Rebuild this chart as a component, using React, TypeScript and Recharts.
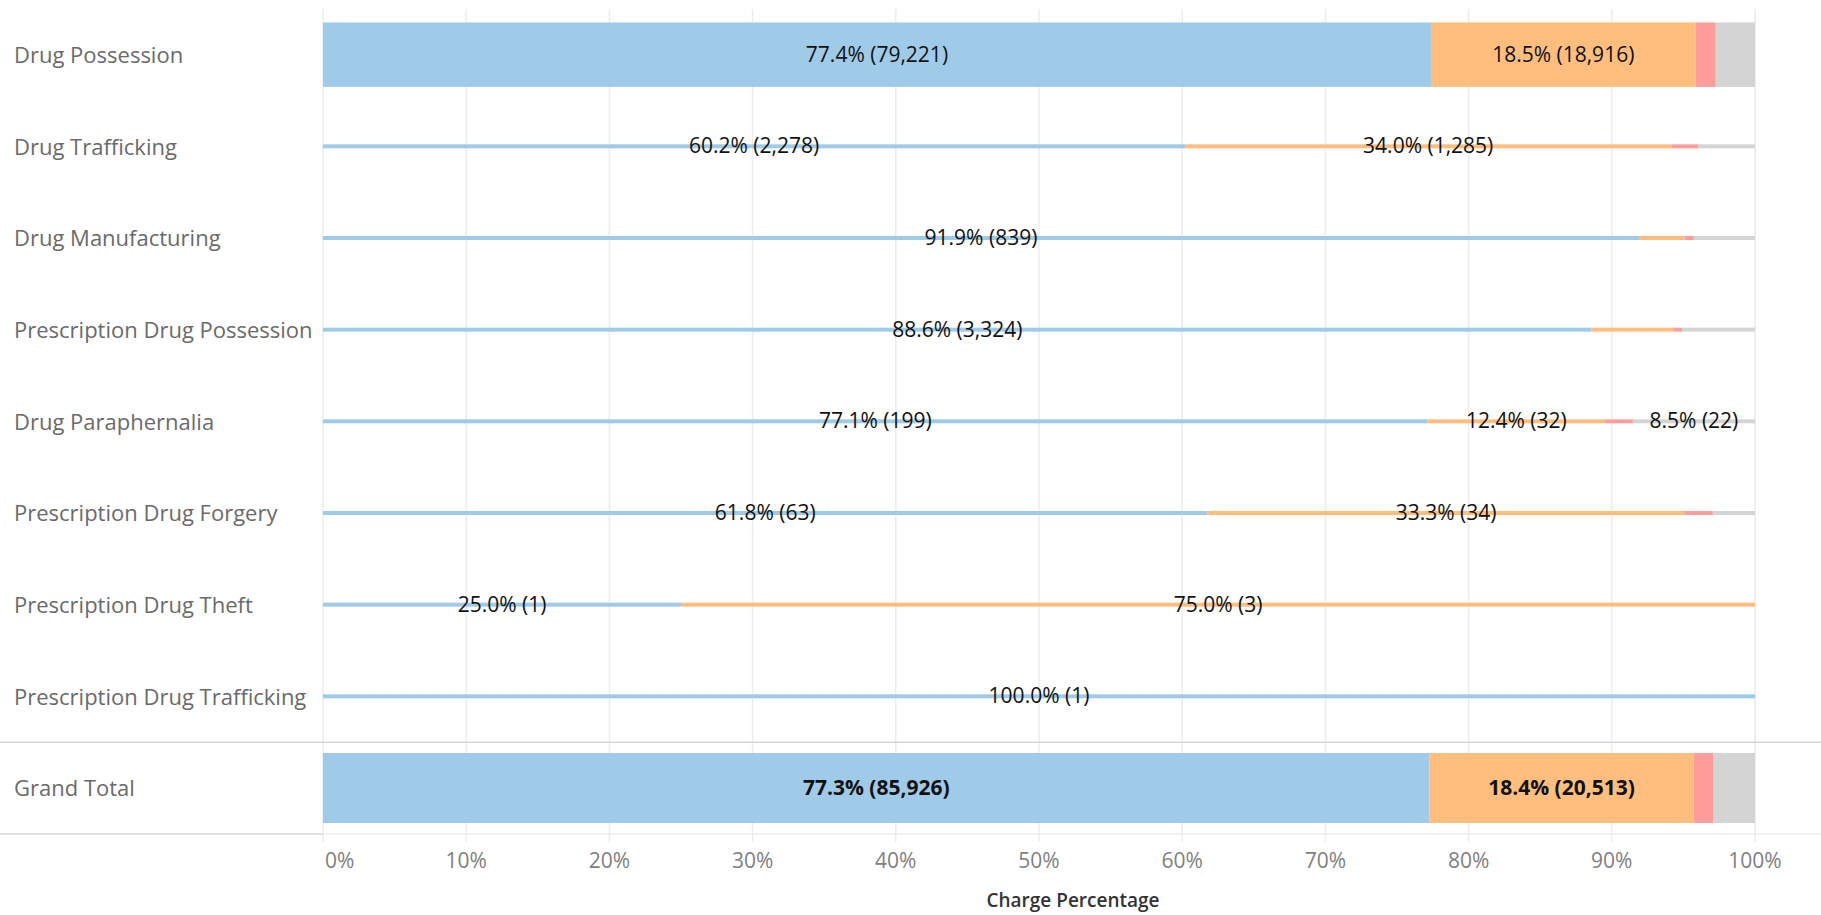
import React from 'react';
import { BarChart, Bar, XAxis, YAxis, CartesianGrid, LabelList, ReferenceLine, Label } from 'recharts';

// ---------- data ----------
const categories = [
  'Drug Possession',
  'Drug Trafficking',
  'Drug Manufacturing',
  'Prescription Drug Possession',
  'Drug Paraphernalia',
  'Prescription Drug Forgery',
  'Prescription Drug Theft',
  'Prescription Drug Trafficking',
  'Grand Total',
];
const outcome1Counts = [79221, 2278, 839, 3324, 199, 63, 1, 1, 85926];
const outcome2Counts = [18916, 1285, 29, 214, 32, 34, 3, 0, 20513];
const outcome3Counts = [1449, 72, 6, 23, 5, 2, 0, 0, 1557];
const outcome4Counts = [2804, 149, 39, 191, 22, 3, 0, 0, 3208];
const xTicks = [0, 10, 20, 30, 40, 50, 60, 70, 80, 90, 100];
const TOTAL_LABEL = 'Grand Total';
const AXIS_TITLE = 'Charge Percentage';

// ---------- styles ----------
const COLORS = ['#a0cbe8', '#ffbe7d', '#ff9d9a', '#d4d4d4'];
const FONT = '"Open Sans", "Noto Sans", sans-serif';
const MAX_THICK = 70;
const MIN_THICK = 4;
const CHART_W = 1821;
const CHART_H = 915;

const seriesCounts = [outcome1Counts, outcome2Counts, outcome3Counts, outcome4Counts];
const totals = categories.map((_, i) => seriesCounts.reduce((s, arr) => s + arr[i], 0));
const data = categories.map((name, i) => {
  const row: any = { name, total: totals[i] };
  seriesCounts.forEach((arr, k) => {
    row[`c${k}`] = arr[i];
    row[`p${k}`] = totals[i] ? (arr[i] / totals[i]) * 100 : 0;
  });
  return row;
});
const maxTotal = Math.max(...totals);
const thickness = (total: number) => Math.max(MIN_THICK, (MAX_THICK * total) / maxTotal);

const SegmentShape = (props: any) => {
  const { x, y, width, height, fill, payload } = props;
  if (!width || width <= 0) return <g />;
  const total = payload?.total ?? (props.total as number);
  const t = thickness(total);
  const cy = y + height / 2;
  return <rect x={x} y={cy - t / 2} width={width} height={t} fill={fill} />;
};

const makeLabel = (k: number) => (props: any) => {
  const vb = props.viewBox && props.viewBox.width !== undefined ? props.viewBox : props;
  const { x, y, width, height } = vb;
  const index = props.index;
  const row = data[index];
  if (!row) return null;
  const count = row[`c${k}`];
  const pct = row[`p${k}`];
  if (!count) return null;
  const text = `${pct.toFixed(1)}% (${count.toLocaleString('en-US')})`;
  if (width < text.length * 10) return null;
  const bold = row.name === TOTAL_LABEL;
  return (
    <text
      x={x + width / 2}
      y={y + height / 2}
      dy={-1}
      textAnchor="middle"
      dominantBaseline="central"
      fontSize={21}
      fontWeight={bold ? 700 : 400}
      fill="#111"
      fontFamily={FONT}
    >
      {text}
    </text>
  );
};

const CategoryTick = (props: any) => {
  const { y, payload } = props;
  return (
    <text x={14} y={y} dy={-1} dominantBaseline="central" fontSize={22} fill="#6a6a6a" fontFamily={FONT}>
      {payload.value}
    </text>
  );
};

const XTick = (props: any) => {
  const { x, y, payload } = props;
  const first = payload.value === xTicks[0];
  return (
    <text
      x={x}
      y={y}
      dx={first ? 2 : 0}
      dy={24}
      textAnchor={first ? 'start' : 'middle'}
      fontSize={21}
      fill="#808080"
      fontFamily={FONT}
    >
      {`${payload.value}%`}
    </text>
  );
};

const AxisTitle = (props: any) => {
  const vb = props.viewBox || {};
  return (
    <text
      x={vb.x + vb.width / 2 + 34}
      y={CHART_H - 8}
      textAnchor="middle"
      fontSize={19}
      fontWeight={600}
      fill="#333"
      fontFamily={FONT}
    >
      {AXIS_TITLE}
    </text>
  );
};

export default function App() {
  return (
    <div
      style={{
        position: 'absolute',
        left: 0,
        top: 0,
        width: CHART_W,
        height: CHART_H,
        background: '#fff',
        fontFamily: FONT,
        overflow: 'hidden',
      }}
    >
      <BarChart
        width={CHART_W}
        height={CHART_H}
        data={data}
        layout="vertical"
        margin={{ top: 9, right: 66, bottom: 0, left: 0 }}
      >
        <CartesianGrid horizontal={false} stroke="#ececec" strokeWidth={1.5} />
        <XAxis
          type="number"
          domain={[0, 100]}
          ticks={xTicks}
          interval={0}
          axisLine={false}
          tickLine={{ stroke: '#ececec', strokeWidth: 1.5 }}
          tickSize={8}
          tickMargin={2}
          height={81}
          tick={<XTick />}
        >
          <Label content={<AxisTitle />} position="insideBottom" />
        </XAxis>
        <YAxis
          type="category"
          dataKey="name"
          width={323}
          axisLine={false}
          tickLine={false}
          interval={0}
          tick={<CategoryTick />}
        />
        {COLORS.map((c, k) => (
          <Bar
            key={k}
            dataKey={`p${k}`}
            stackId="s"
            fill={c}
            isAnimationActive={false}
            shape={<SegmentShape />}
          >
            <LabelList dataKey={`p${k}`} content={makeLabel(k)} />
          </Bar>
        ))}
        <ReferenceLine
          segment={[{ x: -23, y: TOTAL_LABEL }, { x: 105, y: TOTAL_LABEL }]}
          position="start"
          ifOverflow="visible"
          stroke="#d6d6d6"
          strokeWidth={1.5}
        />
        <ReferenceLine
          segment={[{ x: -23, y: TOTAL_LABEL }, { x: 0, y: TOTAL_LABEL }]}
          position="end"
          ifOverflow="visible"
          stroke="#d6d6d6"
          strokeWidth={1.5}
        />
        <ReferenceLine
          segment={[{ x: 0, y: TOTAL_LABEL }, { x: 105, y: TOTAL_LABEL }]}
          position="end"
          ifOverflow="visible"
          stroke="#ededed"
          strokeWidth={1.5}
        />
      </BarChart>
    </div>
  );
}
